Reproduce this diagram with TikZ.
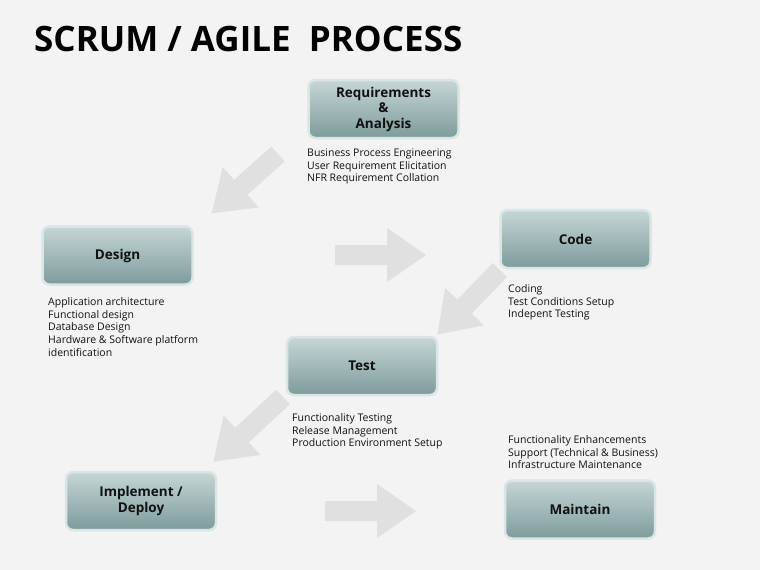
\documentclass[tikz,border=0pt]{standalone}
\usepackage{fontspec}
\setmainfont{Open Sans}
\begin{document}
\begin{tikzpicture}[x=1pt,y=-1pt,
  box/.style={rounded corners=7pt, minimum width=150pt, minimum height=58pt,
    top color=boxtop, bottom color=boxbot, draw=boxglow, line width=2.5pt,
    align=center, font=\fontsize{13.5}{15.5}\selectfont\bfseries, text=txt},
  desc/.style={anchor=north west, align=left, inner sep=0pt,
    font=\fontsize{10.5}{12.6}\selectfont, text=txt},
  arr/.style={fill=arrowgray, draw=none}]
\definecolor{bg}{HTML}{F3F3F3}
\definecolor{boxtop}{HTML}{C6D6D6}
\definecolor{boxbot}{HTML}{7E9B9C}
\definecolor{boxglow}{HTML}{DAE6E5}
\definecolor{arrowgray}{HTML}{E0E0E0}
\definecolor{txt}{HTML}{111111}
\newcommand{\bigarrow}[4]{%
  \begin{scope}[shift={(#1,#2)}, rotate=#3]
    \fill[arr] (0,-10) -- (#4-39,-10) -- (#4-39,-27) -- (#4,0) -- (#4-39,27) -- (#4-39,10) -- (0,10) -- cycle;
  \end{scope}}
\fill[bg] (0,0) rectangle (760,570);
\useasboundingbox (0,0) rectangle (760,570);

\node[anchor=west, inner sep=0pt, font=\fontsize{35}{40}\selectfont\bfseries, text=black] (title) at (34,38.5) {SCRUM / AGILE\ \ PROCESS};

% arrows
\bigarrow{278}{154}{221.8}{89}
\bigarrow{335}{255}{0}{91}
\bigarrow{500}{270}{225.9}{90}
\bigarrow{283}{397}{222.9}{95}
\bigarrow{325}{511}{0}{91}

% boxes
\node[box] (req) at (383.5,109) {Requirements\\\&\\Analysis};
\node[box] (design) at (117.5,255.5) {Design};
\node[box] (code) at (575.5,239) {Code};
\node[box] (test) at (362,366) {Test};
\node[box] (impl) at (141,501) {Implement /\\Deploy};
\node[box] (maint) at (580,509.5) {Maintain};

% descriptions
\node[desc] (reqd) at (307,148.5) {Business Process Engineering\\User Requirement Elicitation\\NFR Requirement Collation};
\node[desc] (designd) at (48,297.5) {Application architecture\\Functional design\\Database Design\\Hardware \& Software platform\\identification};
\node[desc] (coded) at (508,284.5) {Coding\\Test Conditions Setup\\Indepent Testing};
\node[desc] (testd) at (292,413.5) {Functionality Testing\\Release Management\\Production Environment Setup};
\node[desc] (maintd) at (508,435.5) {Functionality Enhancements\\Support (Technical \& Business)\\Infrastructure Maintenance};
\end{tikzpicture}
\end{document}
